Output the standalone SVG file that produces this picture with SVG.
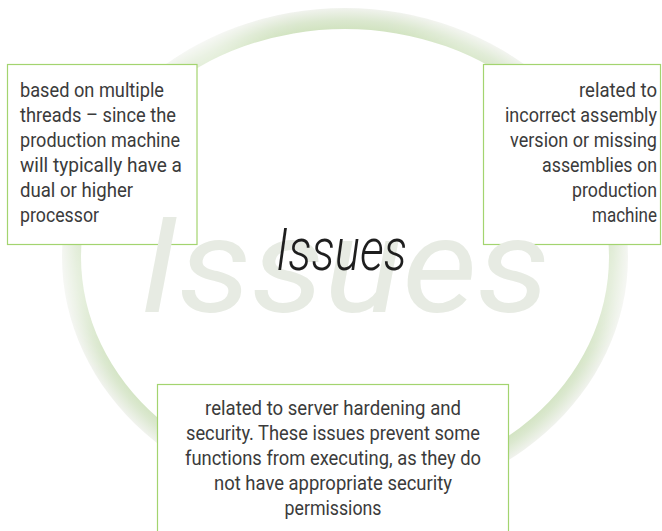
<svg xmlns="http://www.w3.org/2000/svg" width="662" height="531" viewBox="0 0 662 531">
  <defs>
    <!-- ring shading: green on the inner side, fading to near white outside -->
    <radialGradient id="ringShade" gradientUnits="userSpaceOnUse" cx="345" cy="257" r="283" gradientTransform="translate(345 257) scale(1 0.88) translate(-345 -257)">
      <stop offset="0.9" stop-color="#cde1ba"/>
      <stop offset="0.95" stop-color="#dbe8cf"/>
      <stop offset="1" stop-color="#f1f3ee"/>
    </radialGradient>
    <!-- paler stretches along the ring -->
    <filter id="soft" x="-50%" y="-50%" width="200%" height="200%">
      <feGaussianBlur stdDeviation="28"/>
    </filter>
    <mask id="ringFade" maskUnits="userSpaceOnUse" x="0" y="0" width="662" height="531">
      <rect width="662" height="531" fill="#ffffff"/>
      <g filter="url(#soft)" fill="#000000">
        <circle cx="205" cy="55" r="45" opacity="0.55"/>
        <circle cx="70" cy="285" r="50" opacity="0.45"/>
        <circle cx="625" cy="285" r="50" opacity="0.4"/>
        <circle cx="470" cy="40" r="40" opacity="0.3"/>
      </g>
    </mask>
    <style>
      .box { fill: #ffffff; stroke: #a3d46f; stroke-width: 1.2; }
      .txt { font-family: Roboto, "Liberation Sans", sans-serif; font-size: 20px; font-weight: 400; fill: #3b3b3b; }
      .right { text-anchor: end; }
      .mid { text-anchor: middle; }
      .title { font-family: Roboto, "Liberation Sans", sans-serif; font-style: italic; }
    </style>
  </defs>

  <rect width="662" height="531" fill="#ffffff"/>

  <!-- background ring -->
  <path id="ring" fill="url(#ringShade)" fill-rule="evenodd" mask="url(#ringFade)"
        d="M62,257 a283,249 0 1,0 566,0 a283,249 0 1,0 -566,0 Z M81,257 a264,228 0 1,0 528,0 a264,228 0 1,0 -528,0 Z"/>

  <!-- box frames -->
  <g id="connectors"></g>
  <g id="node-threads">
    <rect class="box" x="7.5" y="64.5" width="189.5" height="180"/>
  </g>
  <g id="node-assembly">
    <rect class="box" x="483.5" y="64.5" width="177" height="180"/>
  </g>
  <g id="node-security">
    <rect class="box" x="157.5" y="384.5" width="351" height="170"/>
  </g>

  <!-- large watermark word -->
  <text class="title" x="140" y="312" font-size="134" font-weight="400" fill="#e7ebe3" textLength="410" lengthAdjust="spacingAndGlyphs">Issues</text>

  <!-- centre title -->
  <g id="node-title">
    <text class="title" x="276" y="270" font-size="59" font-weight="300" fill="#1e1e1e" textLength="131" lengthAdjust="spacingAndGlyphs">Issues</text>
  </g>

  <!-- box texts, set in a narrowed face -->
  <g class="txt" transform="translate(20 0) scale(0.9 1)">
    <text x="0" y="97" textLength="160" lengthAdjust="spacingAndGlyphs">based on multiple</text>
    <text x="0" y="122" textLength="173.3" lengthAdjust="spacingAndGlyphs">threads – since the</text>
    <text x="0" y="147" textLength="177.8" lengthAdjust="spacingAndGlyphs">production machine</text>
    <text x="0" y="172" textLength="180" lengthAdjust="spacingAndGlyphs">will typically have a</text>
    <text x="0" y="197" textLength="125.6" lengthAdjust="spacingAndGlyphs">dual or higher</text>
    <text x="0" y="222" textLength="87.8" lengthAdjust="spacingAndGlyphs">processor</text>
  </g>
  <g class="txt right" transform="translate(657 0) scale(0.9 1)">
    <text x="0" y="97" textLength="86.7" lengthAdjust="spacingAndGlyphs">related to</text>
    <text x="0" y="122" textLength="168.9" lengthAdjust="spacingAndGlyphs">incorrect assembly</text>
    <text x="0" y="147" textLength="163.3" lengthAdjust="spacingAndGlyphs">version or missing</text>
    <text x="0" y="172" textLength="127.8" lengthAdjust="spacingAndGlyphs">assemblies on</text>
    <text x="0" y="197" textLength="94.4" lengthAdjust="spacingAndGlyphs">production</text>
    <text x="0" y="222" textLength="72.2" lengthAdjust="spacingAndGlyphs">machine</text>
  </g>
  <g class="txt mid" transform="translate(333 0) scale(0.9 1)">
    <text x="0" y="415" textLength="284.4" lengthAdjust="spacingAndGlyphs">related to server hardening and</text>
    <text x="0" y="440" textLength="326.7" lengthAdjust="spacingAndGlyphs">security. These issues prevent some</text>
    <text x="0" y="465" textLength="328.9" lengthAdjust="spacingAndGlyphs">functions from executing, as they do</text>
    <text x="0" y="490" textLength="264.4" lengthAdjust="spacingAndGlyphs">not have appropriate security</text>
    <text x="0" y="515" textLength="107.8" lengthAdjust="spacingAndGlyphs">permissions</text>
  </g>
</svg>
